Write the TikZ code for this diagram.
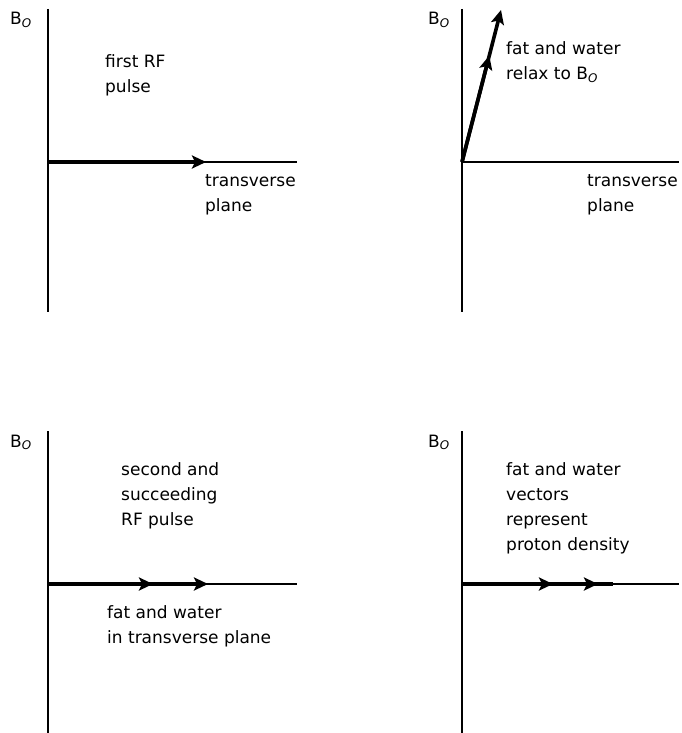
\documentclass[tikz,border=0pt]{standalone}
\usepackage{fontspec}
\setmainfont{DejaVu Sans}
\usetikzlibrary{
		calc,
		positioning,
		arrows.meta
	}
\tikzset{
		>={Stealth[length=14pt, width=13pt, inset=3pt]}
	}
\newcommand{\Bzero}{B\textsubscript{\itshape O}}

\begin{document}
\begin{tikzpicture}[x=1pt, y=-1pt,
		axis/.style={line width=1.3pt, black},
		vec/.style={line width=3.6pt, black},
		txt/.style={anchor=base west, inner sep=0pt, align=left, font=\fontsize{17}{25}\selectfont}]
		\useasboundingbox (0,0) rectangle (682,733);
		% first RF pulse
		\coordinate (o1) at (48,162);
		\coordinate (t1) at (48,9);
		\coordinate (b1) at (48,312);
		\coordinate (r1) at (297,162);
		\coordinate (v1) at (206,162);
		\draw[axis] (t1) -- (b1);
		\draw[axis] (o1) -- (r1);
		\draw[vec, ->] (o1) -- (v1);
		\node[txt] (bz1) at (10,25) {\Bzero};
		\node[txt] (lab1) at (105,93) {first RF\\pulse};
		\node[txt] (tp1) at (205,211) {transverse\\plane};
		% relaxation to B0
		\coordinate (o2) at (462,162);
		\coordinate (t2) at (462,9);
		\coordinate (b2) at (462,312);
		\coordinate (r2) at (679,162);
		\coordinate (m2) at ($(o2)!0.70!(501,10)$);
		\coordinate (v2) at (501,10);
		\draw[axis] (t2) -- (b2);
		\draw[axis] (o2) -- (r2);
		\draw[vec, ->] (o2) -- (m2);
		\draw[vec, ->] (o2) -- (v2);
		\node[txt] (bz2) at (428,25) {\Bzero};
		\node[txt] (lab2) at (506,80) {fat and water\\relax to \Bzero};
		\node[txt] (tp2) at (587,211) {transverse\\plane};
		% second and succeeding pulses
		\coordinate (o3) at (48,584);
		\coordinate (t3) at (48,431);
		\coordinate (b3) at (48,733);
		\coordinate (r3) at (297,584);
		\coordinate (m3) at (153,584);
		\coordinate (v3) at (208,584);
		\draw[axis] (t3) -- (b3);
		\draw[axis] (o3) -- (r3);
		\draw[vec, ->] (o3) -- (m3);
		\draw[vec, ->] (o3) -- (v3);
		\node[txt] (bz3) at (10,447) {\Bzero};
		\node[txt] (lab3) at (121,525) {second and\\succeeding\\RF pulse};
		\node[txt] (tp3) at (107,643) {fat and water\\in transverse plane};
		% proton density
		\coordinate (o4) at (462,584);
		\coordinate (t4) at (462,431);
		\coordinate (b4) at (462,733);
		\coordinate (r4) at (679,584);
		\coordinate (m4) at (553,584);
		\coordinate (n4) at (598,584);
		\coordinate (e4) at (613,584);
		\draw[axis] (t4) -- (b4);
		\draw[axis] (o4) -- (r4);
		\draw[vec] (o4) -- (e4);
		\draw[vec, ->] (o4) -- (m4);
		\draw[vec, ->] (o4) -- (n4);
		\node[txt] (bz4) at (428,447) {\Bzero};
		\node[txt] (lab4) at (506,550) {fat and water\\vectors\\represent\\proton density};
	\end{tikzpicture}
\end{document}
